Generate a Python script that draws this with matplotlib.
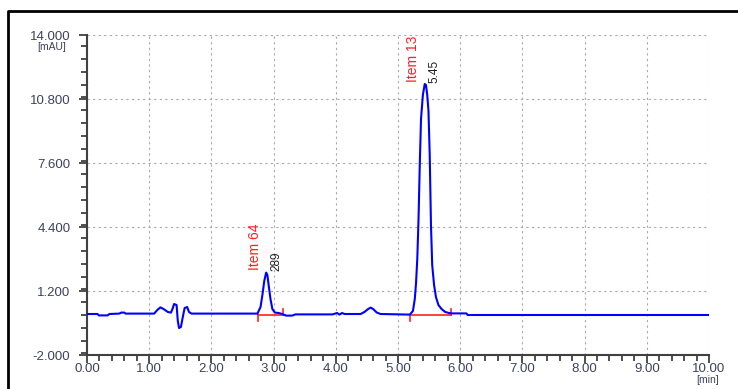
import matplotlib
matplotlib.use("Agg")
import matplotlib.pyplot as plt
from matplotlib.lines import Line2D
from matplotlib.ticker import MultipleLocator, FixedLocator, FuncFormatter

# ---- data ----
time_min = [0.00, 0.17, 0.19, 0.33, 0.36, 0.52, 0.55, 0.60, 0.62, 1.08, 1.13, 1.18,
            1.23, 1.30, 1.35, 1.38, 1.40, 1.44, 1.46, 1.48, 1.51, 1.54, 1.57, 1.61,
            1.64, 1.68, 2.74, 2.79, 2.82, 2.85, 2.88, 2.90, 2.92, 2.95, 2.98, 3.02,
            3.08, 3.14, 3.20, 3.30, 3.35, 3.95, 4.02, 4.06, 4.10, 4.14, 4.40, 4.46,
            4.52, 4.56, 4.60, 4.66, 4.72, 5.19, 5.24, 5.27, 5.29, 5.31, 5.33, 5.35,
            5.37, 5.40, 5.43, 5.45, 5.47, 5.49, 5.51, 5.53, 5.55, 5.58, 5.61, 5.65,
            5.70, 5.76, 5.82, 5.86, 6.10, 6.12, 10.00]
signal_mau = [0.05, 0.05, -0.02, -0.02, 0.05, 0.07, 0.12, 0.12, 0.07, 0.07, 0.25, 0.38,
              0.30, 0.15, 0.12, 0.35, 0.55, 0.50, -0.30, -0.65, -0.60, -0.10, 0.35, 0.40,
              0.15, 0.07, 0.07, 0.40, 1.00, 1.70, 2.12, 2.00, 1.50, 0.80, 0.30, 0.12,
              0.10, 0.05, -0.03, -0.03, 0.03, 0.03, 0.10, 0.02, 0.10, 0.05, 0.05, 0.15,
              0.30, 0.37, 0.30, 0.12, 0.05, 0.02, 0.20, 0.80, 1.60, 2.80, 4.80, 7.50,
              9.80, 11.00, 11.55, 11.50, 11.00, 10.20, 8.00, 4.50, 2.50, 1.50, 0.90, 0.50,
              0.30, 0.15, 0.10, 0.08, 0.08, 0.00, 0.00]

peak_names = ["Item 64", "Item 13"]
peak_rt_labels = ["289", "5.45"]
peak_name_pos = [(2.70, 2.25), (5.24, 11.65)]
peak_rt_pos = [(3.05, 2.2), (5.58, 11.6)]
baseline_starts = [2.75, 5.19]
baseline_ends = [3.15, 5.85]
baseline_levels = [0.02, 0.02]

y_ticks = [-2.0, 1.2, 4.4, 7.6, 10.8, 14.0]
x_ticks = [0, 1, 2, 3, 4, 5, 6, 7, 8, 9, 10]

# ---- figure ----
fig = plt.figure(figsize=(7.38, 3.89), dpi=100)
ax = fig.add_axes([87/738, 34/389, (709-87)/738, (355-35)/389])

label_col = "#404060"
ax.plot(time_min, signal_mau, color="#0000ff", lw=1.5, zorder=3)

for s, e, lv in zip(baseline_starts, baseline_ends, baseline_levels):
    ax.plot([s, e], [lv, lv], color="#ff2020", lw=1.2, zorder=2)
    ax.plot([s, s], [lv, lv - 0.3], color="#ff2020", lw=1.2, zorder=2)
    ax.plot([e, e], [lv, lv + 0.3], color="#ff2020", lw=1.2, zorder=2)

for name, (px, py) in zip(peak_names, peak_name_pos):
    ax.text(px, py, name, rotation=90, color="#ff2020", fontsize=10,
            ha="center", va="bottom", family="Liberation Sans")
for lab, (px, py) in zip(peak_rt_labels, peak_rt_pos):
    ax.text(px, py, lab, rotation=90, color="#202020", fontsize=8.5,
            ha="center", va="bottom", family="Liberation Sans")

ax.set_xlim(0, 10)
ax.set_ylim(-2, 14)
ax.xaxis.set_major_locator(FixedLocator(x_ticks))
ax.xaxis.set_minor_locator(MultipleLocator(0.2))
ax.yaxis.set_major_locator(FixedLocator(y_ticks))
ax.yaxis.set_minor_locator(MultipleLocator(0.64))
ax.xaxis.set_major_formatter(FuncFormatter(lambda v, p: f"{v:.2f}"))
ax.yaxis.set_major_formatter(FuncFormatter(lambda v, p: f"{v:.3f}"))

for sp in ["top", "right"]:
    ax.spines[sp].set_visible(False)
for sp in ["left", "bottom"]:
    ax.spines[sp].set_color("#404040")
    ax.spines[sp].set_linewidth(1.5)

ax.tick_params(axis="both", which="major", length=6, width=1.3, color="#404040",
               labelsize=9.5, labelcolor=label_col)
ax.tick_params(axis="x", which="major", pad=0)
ax.tick_params(axis="y", which="major", pad=6)
ax.tick_params(axis="both", which="minor", length=4, width=1.3, color="#404040")
for t in ax.get_xticklabels() + ax.get_yticklabels():
    t.set_family("Liberation Sans")

ax.grid(True, which="major", color="#a8a8a8", lw=0.8, linestyle=(0, (2, 3)))
ax.set_axisbelow(True)

fig.text(52/738, 1 - 47/389, "[mAU]", fontsize=7.5, color=label_col,
         ha="center", va="center", family="Liberation Sans")
fig.text(708/738, 1 - 380/389, "[min]", fontsize=7.5, color=label_col,
         ha="center", va="center", family="Liberation Sans")

# outer frame
fx = 8/738
fy = 1 - 11/389
fig.add_artist(Line2D([fx, fx, 1.0], [0.0, fy, fy], transform=fig.transFigure,
                      color="black", lw=2.0))

fig.savefig("out.png", dpi=100)
